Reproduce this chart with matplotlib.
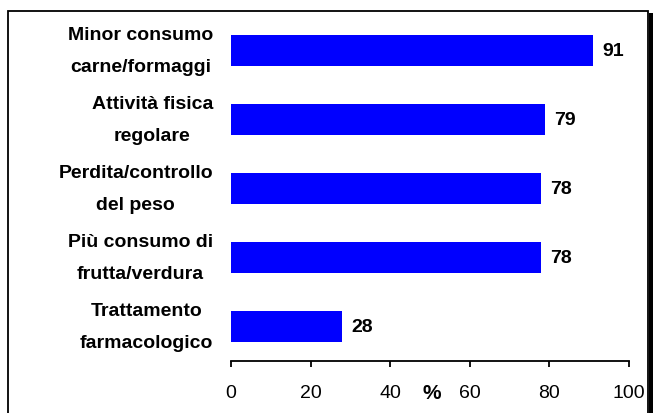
"""Horizontal bar chart: lifestyle changes (%)."""
import matplotlib
matplotlib.use("Agg")
import matplotlib.pyplot as plt
from matplotlib.patches import Rectangle

plt.rcParams["font.family"] = ["Liberation Sans", "DejaVu Sans"]

categories = [
    "Minor consumo\ncarne/formaggi",
    "Attività fisica\nregolare",
    "Perdita/controllo\ndel peso",
    "Più consumo di\nfrutta/verdura",
    "Trattamento\nfarmacologico",
]
values = [91, 79, 78, 78, 28]
xticks = [0, 20, 40, 60, 80, 100]

W, H = 653, 414
fig = plt.figure(figsize=(W / 100, H / 100), dpi=100)
ax = fig.add_axes([231 / W, 52 / H, 398 / W, 345 / H])

pos = list(range(len(categories)))
ax.barh(pos, values, height=0.435, color="#0000FF", edgecolor="none")
ax.set_ylim(len(categories) - 0.5, -0.5)
ax.set_xlim(0, 100)

# value labels
for p, v in zip(pos, values):
    ax.text(v + 2.2, p, str(v), va="center", ha="left",
            fontsize=14, fontweight="bold")

ax.set_yticks(pos)
ax.set_yticklabels(categories, fontsize=14, fontweight="bold",
                   multialignment="center", linespacing=2.15, va="center")
ax.tick_params(axis="y", length=0, pad=13)

ax.set_xticks(xticks)
ax.set_xticklabels([str(t) for t in xticks], fontsize=14)
ax.tick_params(axis="x", direction="out", length=4.5, width=1.3, pad=12)

for s in ["top", "left", "right"]:
    ax.spines[s].set_visible(False)
ax.spines["bottom"].set_linewidth(1.3)

# "%" sitting in the tick label row
ax.text(50.5, -0.09, "%", transform=ax.get_xaxis_transform(), ha="center",
        va="center", fontsize=15, fontweight="bold")

# chart frame with shadow on the right
fig.patches.append(Rectangle((649 / W, -0.05), 4 / W, (H - 14) / H + 0.05,
                             transform=fig.transFigure, facecolor="black",
                             edgecolor="none"))
fig.patches.append(Rectangle((8 / W, -0.05), 640 / W, (H - 12) / H + 0.05,
                             transform=fig.transFigure, facecolor="none",
                             edgecolor="black", linewidth=1.3))

fig.savefig("out.png", dpi=100)
